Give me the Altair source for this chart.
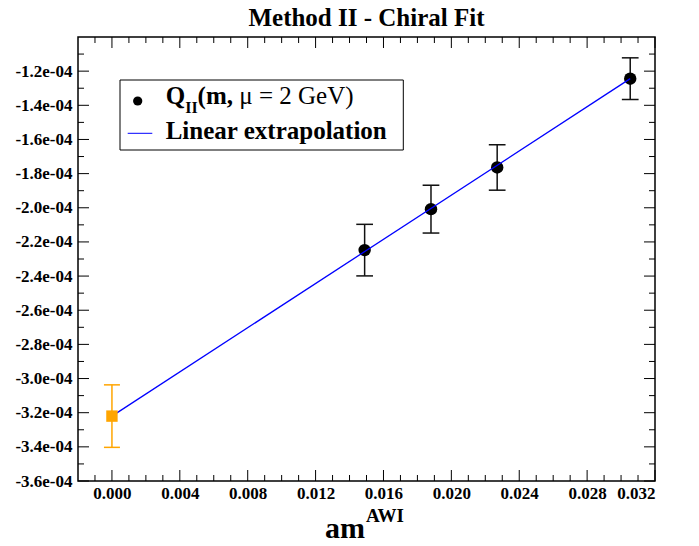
import altair as alt
import pandas as pd
import numpy as np

# ---------------- data ----------------
am_awi = [0.01489, 0.0188, 0.0227, 0.03054]
q_ii = [-2.248e-4, -2.008e-4, -1.764e-4, -1.244e-4]
q_err = [0.151e-4, 0.140e-4, 0.133e-4, 0.122e-4]

chiral_x = [0.0]
chiral_y = [-3.22e-4]
chiral_err = [0.183e-4]

fit_x = [0.0, 0.03054]
fit_y = [-3.22e-4, -1.244e-4]

x_major = [0.000, 0.004, 0.008, 0.012, 0.016, 0.020, 0.024, 0.028, 0.032]
x_minor = [round(-0.001 + 0.001 * i, 3) for i in range(33) if i % 4 != 1]
y_major = [round(-3.6e-4 + 0.2e-4 * i, 7) for i in range(13)]
y_minor = [round(-3.5e-4 + 0.2e-4 * i, 7) for i in range(13)]

title_text = "Method II - Chiral Fit"
legend_q = ["Q", "II", "(m, ", "\u03bc = 2 GeV)"]
legend_fit = "Linear extrapolation"
x_title = ["am", "AWI"]

# ---------------- layout ----------------
W, H = 577, 444
FONT = "Liberation Serif"
MAJ, MIN = 11, 6

xs = alt.Scale(domain=[-0.002, 0.032], nice=False, zero=False)
ys = alt.Scale(domain=[-3.6e-4, -1.0e-4], nice=False, zero=False)

xaxis = alt.Axis(values=x_major, format=".3f", title="", grid=False, domain=False,
                 ticks=False, tickSize=0, labelPadding=4, labelFont=FONT,
                 labelFontWeight="bold", labelFontSize=17, labelColor="black")
yaxis = alt.Axis(values=y_major, title="", grid=False, domain=False, ticks=False,
                 tickSize=0, labelPadding=6, labelFont=FONT, labelFontWeight="bold",
                 labelFontSize=17, labelColor="black",
                 labelExpr="'-' + format(abs(datum.value) * 1e4, '.1f') + 'e-04'")

X = lambda f="x": alt.X(f"{f}:Q", scale=xs, axis=xaxis)
Y = lambda f="y": alt.Y(f"{f}:Q", scale=ys, axis=yaxis)

xt_maj = pd.DataFrame({"x": x_major})
xt_min = pd.DataFrame({"x": x_minor})
yt_maj = pd.DataFrame({"y": y_major})
yt_min = pd.DataFrame({"y": y_minor})

tick_layers = []
for df, L in [(xt_maj, MAJ), (xt_min, MIN)]:
    tick_layers.append(alt.Chart(df).mark_rule(color="black", strokeWidth=1).encode(
        x=X(), y=alt.value(H), y2=alt.value(H - L)))
    tick_layers.append(alt.Chart(df).mark_rule(color="black", strokeWidth=1).encode(
        x=X(), y=alt.value(0), y2=alt.value(L)))
for df, L in [(yt_maj, MAJ), (yt_min, MIN)]:
    tick_layers.append(alt.Chart(df).mark_rule(color="black", strokeWidth=1).encode(
        y=Y(), x=alt.value(0), x2=alt.value(L)))
    tick_layers.append(alt.Chart(df).mark_rule(color="black", strokeWidth=1).encode(
        y=Y(), x=alt.value(W), x2=alt.value(W - L)))

pts = pd.DataFrame({"x": am_awi, "y": q_ii, "err": q_err})
pts["lo"] = pts["y"] - pts["err"]
pts["hi"] = pts["y"] + pts["err"]

ext = pd.DataFrame({"x": chiral_x, "y": chiral_y, "err": chiral_err})
ext["lo"] = ext["y"] - ext["err"]
ext["hi"] = ext["y"] + ext["err"]

fit = pd.DataFrame({"x": fit_x, "y": fit_y})

CAP = "M-1,0L1,0"

err_bars = alt.Chart(pts).mark_rule(color="#111", strokeWidth=1.5).encode(
    x=X(), y=Y("lo"), y2="hi:Q")
caps_lo = alt.Chart(pts).mark_point(shape=CAP, filled=False, stroke="#111",
                                    strokeWidth=1.5, size=280, opacity=1).encode(x=X(), y=Y("lo"))
caps_hi = alt.Chart(pts).mark_point(shape=CAP, filled=False, stroke="#111",
                                    strokeWidth=1.5, size=280, opacity=1).encode(x=X(), y=Y("hi"))
dots = alt.Chart(pts).mark_point(shape="circle", filled=True, color="black",
                                 size=155, opacity=1).encode(x=X(), y=Y())

line = alt.Chart(fit).mark_line(color="#0000ff", strokeWidth=1.3).encode(x=X(), y=Y())

o_bar = alt.Chart(ext).mark_rule(color="#ffa500", strokeWidth=1.5).encode(
    x=X(), y=Y("lo"), y2="hi:Q")
o_lo = alt.Chart(ext).mark_point(shape=CAP, filled=False, stroke="#ffa500",
                                 strokeWidth=1.5, size=256, opacity=1).encode(x=X(), y=Y("lo"))
o_hi = alt.Chart(ext).mark_point(shape=CAP, filled=False, stroke="#ffa500",
                                 strokeWidth=1.5, size=256, opacity=1).encode(x=X(), y=Y("hi"))
o_sq = alt.Chart(ext).mark_point(shape="square", filled=True, color="#ffa500",
                                 size=130, opacity=1).encode(x=X(), y=Y())

one = pd.DataFrame({"a": [0]})

# legend
LS = 25
SUB = 16
lx = 87.7
w_q = 0.778 * LS
w_ii = 2 * 0.389 * SUB
w_m = (0.333 + 0.833 + 0.25 + 0.25) * LS
leg_box = alt.Chart(one).mark_rect(fill="white", stroke="black", strokeWidth=1).encode(
    x=alt.value(42), x2=alt.value(325.3), y=alt.value(43), y2=alt.value(113))
leg_dot = alt.Chart(one).mark_point(shape="circle", filled=True, color="black",
                                    size=85, opacity=1).encode(x=alt.value(59.7), y=alt.value(64))
leg_line = alt.Chart(one).mark_rule(color="#0000ff", strokeWidth=1).encode(
    x=alt.value(49.7), x2=alt.value(74.3), y=alt.value(96.3))


def txt(s, x, y, size, weight="bold", align="left"):
    return alt.Chart(pd.DataFrame({"t": [s]})).mark_text(
        font=FONT, fontSize=size, fontWeight=weight, color="black",
        align=align, baseline="alphabetic").encode(
        text="t:N", x=alt.value(x), y=alt.value(y))


leg_texts = [
    txt(legend_q[0], lx, 67.3, LS),
    txt(legend_q[1], lx + w_q, 76, SUB),
    txt(legend_q[2], lx + w_q + w_ii, 67.3, LS),
    txt(legend_q[3], lx + w_q + w_ii + w_m, 67.3, LS, weight="normal"),
    txt(legend_fit, lx, 102.3, LS),
]

xt_texts = [
    txt(x_title[0], 247, 500.5, 30),
    txt(x_title[1], 288, 484.7, 19),
]

chart = alt.layer(
    *tick_layers, err_bars, caps_lo, caps_hi, dots, line, o_bar, o_lo, o_hi, o_sq,
    leg_box, leg_dot, leg_line, *leg_texts, *xt_texts
).properties(
    width=W, height=H,
    title=alt.TitleParams(title_text, font=FONT, fontSize=25, fontWeight="bold",
                          color="black", anchor="middle", offset=6),
    autosize=alt.AutoSizeParams(type="none"),
    padding={"left": 70, "top": 29, "right": 36, "bottom": 63},
).configure(
    style={"guide-label": {"font": FONT, "fontWeight": "bold", "fontSize": 17,
                           "fill": "black"}}
).configure_view(stroke="black", strokeWidth=1.5).configure_axis(
    labelFont=FONT, labelFontWeight="bold", labelFontSize=17, labelColor="black"
).configure_text(font=FONT)

chart.save("out.html", embed_options={"renderer": "svg", "actions": False})
